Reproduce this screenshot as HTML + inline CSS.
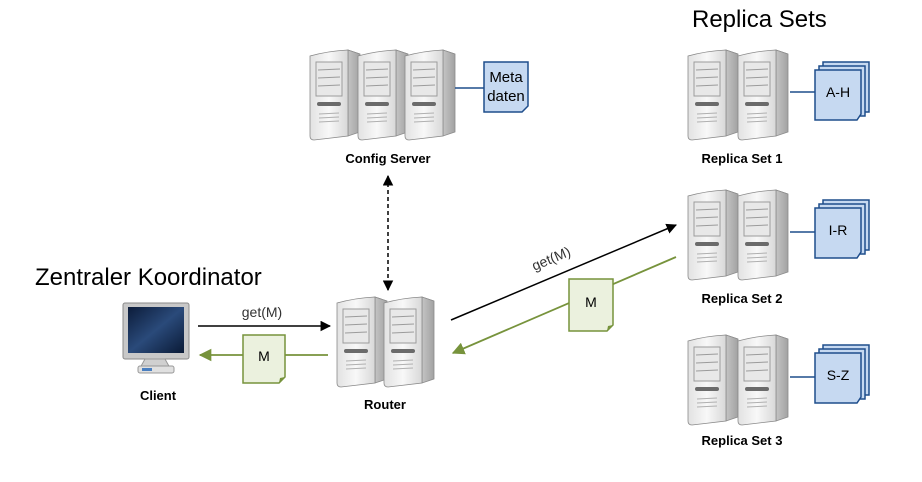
<!DOCTYPE html>
<html><head><meta charset="utf-8"><style>
html,body{margin:0;padding:0;background:#fff;}
svg{display:block;font-family:"Liberation Sans",sans-serif;}
</style></head><body>
<svg width="922" height="482" viewBox="0 0 922 482" xmlns="http://www.w3.org/2000/svg">
<defs>
<linearGradient id="fr" x1="0" x2="1" y1="0" y2="0">
<stop offset="0" stop-color="#e2e2e2"/><stop offset="0.5" stop-color="#f8f8f8"/><stop offset="1" stop-color="#d8d8d8"/></linearGradient>
<linearGradient id="sd" x1="0" x2="1"><stop offset="0" stop-color="#c4c4c4"/><stop offset="1" stop-color="#a2a2a2"/></linearGradient>
<linearGradient id="scr" x1="0" y1="0" x2="1" y2="1"><stop offset="0" stop-color="#0c1c3a"/><stop offset="0.5" stop-color="#2a4a7a"/><stop offset="1" stop-color="#0a1a36"/></linearGradient>
<g id="srv">
<polygon points="0,8 38,2 50,6 12,12" fill="#eeeeee" stroke="#9a9a9a" stroke-width="0.8"/>
<polygon points="38,2 50,6 50,84 38,88" fill="url(#sd)" stroke="#8a8a8a" stroke-width="0.8"/>
<path d="M0,8 Q18,3 38,2 L38,88 L4,92 Q0,92 0,88 Z" fill="url(#fr)" stroke="#8a8a8a" stroke-width="0.8"/>
<g stroke="#9b9b9b" stroke-width="1" fill="none">
<rect x="6" y="14" width="26" height="34" fill="#e8e8e8"/>
<line x1="8" y1="22" x2="30" y2="21"/><line x1="8" y1="30" x2="30" y2="29"/><line x1="8" y1="38" x2="30" y2="37"/>
</g>
<rect x="7" y="54" width="24" height="4" rx="2" fill="#6b6b6b"/>
<g stroke="#b0b0b0" stroke-width="1"><line x1="9" y1="66" x2="29" y2="65"/><line x1="9" y1="70" x2="29" y2="69"/><line x1="9" y1="74" x2="29" y2="73"/></g>
</g>
<marker id="ab" viewBox="0 0 10 10" refX="9" refY="5" markerWidth="7" markerHeight="7" orient="auto-start-reverse"><path d="M0,0 L10,5 L0,10 Z" fill="#000"/></marker>
<marker id="ag" viewBox="0 0 10 10" refX="9" refY="5" markerWidth="7" markerHeight="7" orient="auto"><path d="M0,0 L10,5 L0,10 Z" fill="#77933c"/></marker>
<g id="stack">
<rect x="8" y="0" width="46" height="50" fill="#c6d9f1" stroke="#1f4e8c" stroke-width="1.5"/>
<rect x="4" y="4" width="46" height="50" fill="#c6d9f1" stroke="#1f4e8c" stroke-width="1.5"/>
<path d="M0,8 H46 V52 L42,58 H0 Z" fill="#c6d9f1" stroke="#1f4e8c" stroke-width="1.5"/>
</g>
</defs>

<text x="35" y="285" font-size="24" fill="#000">Zentraler Koordinator</text>
<text x="692" y="27" font-size="24" fill="#000">Replica Sets</text>

<use href="#srv" x="310" y="48"/>
<use href="#srv" x="358" y="48"/>
<use href="#srv" x="405" y="48"/>
<line x1="455" y1="88" x2="484" y2="88" stroke="#1f4e8c" stroke-width="1.5"/>
<path d="M484,62 H528 V106 L522,112 H484 Z" fill="#c6d9f1" stroke="#1f4e8c" stroke-width="1.5"/>
<text x="506" y="82" font-size="15" text-anchor="middle">Meta</text>
<text x="506" y="101" font-size="15" text-anchor="middle">daten</text>
<text x="388" y="163" font-size="13" font-weight="bold" text-anchor="middle">Config Server</text>

<use href="#srv" x="688" y="48"/><use href="#srv" x="738" y="48"/>
<line x1="790" y1="92" x2="815" y2="92" stroke="#1f4e8c" stroke-width="1.5"/>
<use href="#stack" x="815" y="62"/>
<text x="838" y="97" font-size="14" text-anchor="middle">A-H</text>
<text x="742" y="163" font-size="13" font-weight="bold" text-anchor="middle">Replica Set 1</text>

<use href="#srv" x="688" y="188"/><use href="#srv" x="738" y="188"/>
<line x1="790" y1="232" x2="815" y2="232" stroke="#1f4e8c" stroke-width="1.5"/>
<use href="#stack" x="815" y="200"/>
<text x="838" y="235" font-size="14" text-anchor="middle">I-R</text>
<text x="742" y="303" font-size="13" font-weight="bold" text-anchor="middle">Replica Set 2</text>

<use href="#srv" x="688" y="333"/><use href="#srv" x="738" y="333"/>
<line x1="790" y1="377" x2="815" y2="377" stroke="#1f4e8c" stroke-width="1.5"/>
<use href="#stack" x="815" y="345"/>
<text x="838" y="380" font-size="14" text-anchor="middle">S-Z</text>
<text x="742" y="445" font-size="13" font-weight="bold" text-anchor="middle">Replica Set 3</text>

<use href="#srv" x="337" y="295"/><use href="#srv" x="384" y="295"/>
<text x="385" y="409" font-size="13" font-weight="bold" text-anchor="middle">Router</text>

<g>
<rect x="123" y="303" width="66" height="56" rx="2" fill="#c8c8c8" stroke="#8a8a8a"/>
<rect x="128" y="307" width="56" height="46" fill="url(#scr)"/>
<polygon points="145,359 165,359 170,368 140,368" fill="#d0d0d0" stroke="#999"/>
<rect x="138" y="366" width="36" height="7" rx="2" fill="#e0e0e0" stroke="#999"/>
<rect x="142" y="368" width="10" height="3" fill="#4a7fc0"/>
</g>
<text x="158" y="400" font-size="13" font-weight="bold" text-anchor="middle">Client</text>

<line x1="198" y1="326" x2="330" y2="326" stroke="#000" stroke-width="1.5" marker-end="url(#ab)"/>
<text x="262" y="317" font-size="14" fill="#333" text-anchor="middle">get(M)</text>
<line x1="328" y1="355" x2="200" y2="355" stroke="#77933c" stroke-width="1.8" marker-end="url(#ag)"/>
<path d="M243,335 H285 V377 L279,383 H243 Z" fill="#ebf1de" stroke="#77933c" stroke-width="1.5"/>
<path d="M279,383 L280,378 L285,377 Z" fill="#77933c"/>
<text x="264" y="361" font-size="14" text-anchor="middle">M</text>

<line x1="388" y1="176" x2="388" y2="290" stroke="#000" stroke-width="1.5" stroke-dasharray="4,3" marker-start="url(#ab)" marker-end="url(#ab)"/>

<line x1="451" y1="320" x2="676" y2="225" stroke="#000" stroke-width="1.5" marker-end="url(#ab)"/>
<text x="0" y="0" font-size="14" fill="#333" text-anchor="middle" transform="translate(553,263) rotate(-22.9)">get(M)</text>
<line x1="676" y1="257" x2="453" y2="353" stroke="#77933c" stroke-width="1.8" marker-end="url(#ag)"/>
<path d="M569,279 H613 V325 L607,331 H569 Z" fill="#ebf1de" stroke="#77933c" stroke-width="1.5"/>
<path d="M607,331 L608,326 L613,325 Z" fill="#77933c"/>
<text x="591" y="307" font-size="14" text-anchor="middle">M</text>
</svg>
</body></html>
